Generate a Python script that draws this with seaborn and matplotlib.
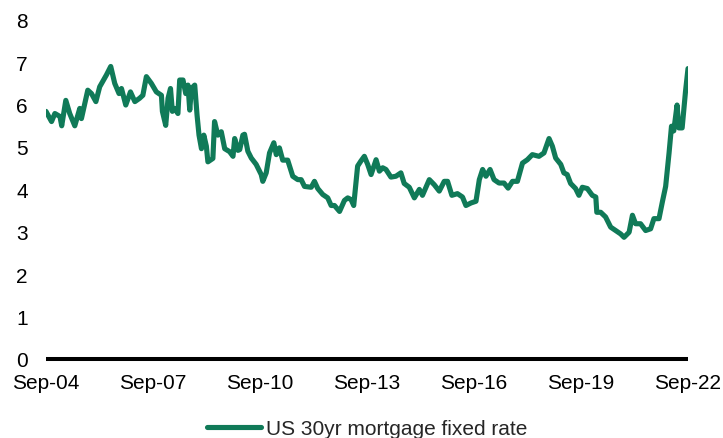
import matplotlib
matplotlib.use("Agg")
import matplotlib.pyplot as plt
import seaborn as sns
import pandas as pd

dates = [
    "2004-09-01", "2004-10-28", "2004-12-01", "2005-01-22", "2005-02-09", "2005-03-23",
    "2005-05-02", "2005-06-23", "2005-08-13", "2005-08-30", "2005-11-03", "2005-12-11",
    "2006-01-25", "2006-03-05", "2006-05-13", "2006-06-26", "2006-08-06", "2006-09-19",
    "2006-10-14", "2006-11-27", "2007-01-14", "2007-02-28", "2007-04-18", "2007-05-21",
    "2007-06-26", "2007-08-16", "2007-10-06", "2007-11-27", "2007-12-07", "2008-01-10",
    "2008-02-03", "2008-02-28", "2008-03-18", "2008-04-11", "2008-05-14", "2008-06-01",
    "2008-07-05", "2008-08-02", "2008-08-25", "2008-09-12", "2008-09-29", "2008-11-02",
    "2008-11-26", "2008-12-16", "2009-01-10", "2009-02-03", "2009-03-01", "2009-03-17",
    "2009-05-07", "2009-05-24", "2009-06-27", "2009-08-01", "2009-09-05", "2009-10-25",
    "2009-11-29", "2009-12-16", "2010-01-19", "2010-02-06", "2010-03-10", "2010-03-27",
    "2010-04-30", "2010-06-04", "2010-07-24", "2010-09-14", "2010-09-30", "2010-11-04",
    "2010-12-08", "2011-01-21", "2011-02-15", "2011-03-19", "2011-04-22", "2011-06-12",
    "2011-08-03", "2011-09-23", "2011-10-28", "2011-12-01", "2012-02-08", "2012-03-12",
    "2012-04-15", "2012-06-05", "2012-07-26", "2012-08-30", "2012-10-03", "2012-11-24",
    "2013-01-13", "2013-02-16", "2013-03-22", "2013-04-18", "2013-05-28", "2013-07-01",
    "2013-08-05", "2013-09-08", "2013-10-13", "2013-12-03", "2014-01-06", "2014-02-09",
    "2014-03-14", "2014-05-04", "2014-06-24", "2014-08-14", "2014-09-17", "2014-11-08",
    "2014-12-30", "2015-02-19", "2015-03-23", "2015-06-01", "2015-07-22", "2015-09-11",
    "2015-11-01", "2015-12-05", "2016-01-18", "2016-03-15", "2016-05-06", "2016-06-10",
    "2016-08-01", "2016-09-21", "2016-10-25", "2016-11-28", "2017-01-01", "2017-02-12",
    "2017-03-25", "2017-05-15", "2017-07-05", "2017-08-16", "2017-09-30", "2017-11-19",
    "2018-01-10", "2018-03-01", "2018-04-21", "2018-06-28", "2018-08-18", "2018-10-09",
    "2018-11-12", "2018-12-16", "2019-02-06", "2019-03-10", "2019-04-13", "2019-05-18",
    "2019-07-08", "2019-08-11", "2019-09-15", "2019-11-05", "2019-12-26", "2020-01-31",
    "2020-02-10", "2020-03-21", "2020-05-10", "2020-07-01", "2020-08-21", "2020-10-11",
    "2020-11-15", "2021-01-06", "2021-02-09", "2021-03-13", "2021-05-03", "2021-06-24",
    "2021-08-14", "2021-09-17", "2021-11-08", "2021-12-12", "2022-01-15", "2022-02-19",
    "2022-03-16", "2022-04-08", "2022-05-12", "2022-05-30", "2022-07-03", "2022-08-06",
    "2022-09-01",
]

rates = [
    5.84, 5.60, 5.79, 5.72, 5.50, 6.10,
    5.79, 5.50, 5.91, 5.67, 6.34, 6.26,
    6.07, 6.42, 6.70, 6.90, 6.50, 6.26,
    6.38, 5.99, 6.30, 6.07, 6.15, 6.22,
    6.66, 6.50, 6.30, 6.22, 5.84, 5.51,
    6.15, 6.38, 5.84, 5.91, 5.79, 6.58,
    6.58, 6.26, 6.46, 5.87, 6.38, 6.46,
    5.75, 5.28, 4.96, 5.28, 5.02, 4.65,
    4.73, 5.60, 5.28, 5.36, 4.96, 4.89,
    4.78, 5.20, 4.92, 4.94, 5.28, 5.30,
    4.90, 4.74, 4.59, 4.35, 4.19, 4.39,
    4.86, 5.10, 4.82, 4.98, 4.69, 4.69,
    4.31, 4.23, 4.23, 4.07, 4.05, 4.19,
    4.02, 3.88, 3.80, 3.62, 3.62, 3.48,
    3.74, 3.80, 3.76, 3.62, 4.55, 4.67,
    4.78, 4.59, 4.35, 4.70, 4.43, 4.51,
    4.47, 4.29, 4.31, 4.39, 4.14, 4.05,
    3.80, 4.00, 3.86, 4.23, 4.11, 3.96,
    4.19, 4.19, 3.86, 3.90, 3.82, 3.62,
    3.68, 3.72, 4.23, 4.47, 4.31, 4.47,
    4.23, 4.15, 4.15, 4.03, 4.19, 4.19,
    4.62, 4.70, 4.82, 4.78, 4.86, 5.20,
    5.02, 4.74, 4.59, 4.39, 4.35, 4.14,
    4.02, 3.86, 4.05, 4.02, 3.86, 3.82,
    3.46, 3.46, 3.35, 3.11, 3.03, 2.95,
    2.87, 2.99, 3.39, 3.19, 3.19, 3.03,
    3.07, 3.31, 3.31, 3.70, 4.07, 4.86,
    5.49, 5.38, 5.99, 5.45, 5.45, 6.30,
    6.85,
]

series_name = "US 30yr mortgage fixed rate"
tick_dates = ["2004-09-01", "2007-09-01", "2010-09-01", "2013-09-01",
              "2016-09-01", "2019-09-01", "2022-09-01"]
tick_labels = ["Sep-04", "Sep-07", "Sep-10", "Sep-13", "Sep-16", "Sep-19", "Sep-22"]
y_ticks = [0, 1, 2, 3, 4, 5, 6, 7, 8]

df = pd.DataFrame({"date": pd.to_datetime(dates), "rate": rates, "series": series_name})

sns.set_style("white")
plt.rcParams["font.family"] = ["Liberation Sans", "DejaVu Sans"]

fig = plt.figure(figsize=(7.23, 4.39), dpi=100)
ax = fig.add_axes([0.0636, 0.18, 0.888, 0.7726])

green = "#107A58"
sns.lineplot(data=df, x="date", y="rate", hue="series", palette=[green],
             linewidth=3.7, ax=ax, legend=False)

ax.set_xlim(pd.Timestamp(tick_dates[0]), pd.Timestamp(tick_dates[-1]))
ax.set_ylim(0, 8)
ax.set_xticks(pd.to_datetime(tick_dates))
ax.set_xticklabels(tick_labels)
ax.set_yticks(y_ticks)
ax.set_yticklabels([str(v) for v in y_ticks])
ax.set_xlabel("")
ax.set_ylabel("")

for s in ["top", "right", "left"]:
    ax.spines[s].set_visible(False)
ax.spines["bottom"].set_color("black")
ax.spines["bottom"].set_linewidth(2.9)
ax.spines["bottom"].set_capstyle("butt")

ax.tick_params(axis="both", length=0, labelsize=15, colors="black")
ax.tick_params(axis="x", pad=10)
ax.tick_params(axis="y", pad=13)

handle = plt.Line2D([], [], color=green, linewidth=3.7)
fig.legend([handle], [series_name], loc="center",
           bbox_to_anchor=(367 / 723, 1 - 430 / 439), frameon=False,
           fontsize=15, handlelength=2.6, handletextpad=0.25)

fig.savefig("out.png", dpi=100)
